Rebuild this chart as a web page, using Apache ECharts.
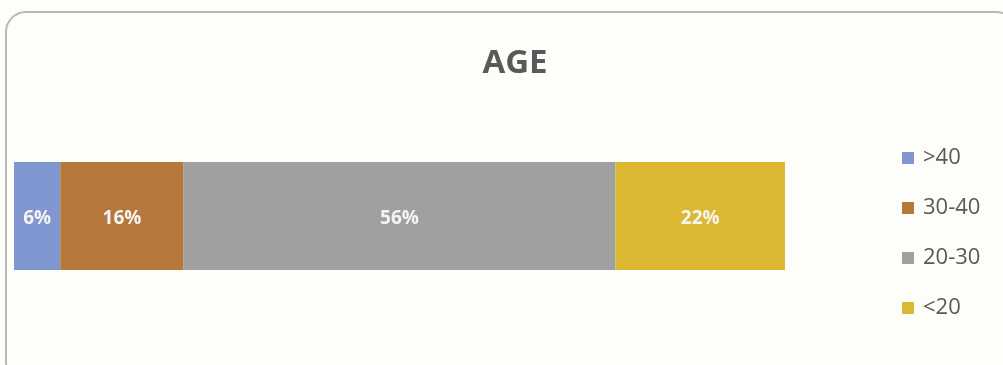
<!DOCTYPE html>
<html>
<head>
<meta charset="utf-8">
<script src="https://cdn.jsdelivr.net/npm/echarts@6/dist/echarts.min.js"></script>
<style>
	html, body { margin: 0; padding: 0; background: #fdfdf9; }
	#chart { width: 1003px; height: 365px; }
</style>
</head>
<body>
<div id="chart"></div>
<script>
var categories = ['AGE'];
var groupNames = ['>40', '30-40', '20-30', '<20'];
var groupValues = [6, 16, 56, 22];
var groupColors = ['#7f96d0', '#b5783a', '#a0a0a0', '#dcb932'];

var myChart = echarts.init(document.getElementById('chart'));

var series = [];
for (var i = 0; i < groupNames.length; i++) {
	series.push({
		type: 'bar',
		name: groupNames[i],
		stack: 'age',
		barWidth: 108,
		data: [groupValues[i]],
		itemStyle: { color: groupColors[i] },
		label: {
			show: true,
			position: 'inside',
			offset: [0, 3],
			formatter: '{c}%',
			color: '#f4f4f4',
			fontSize: 19,
			fontWeight: 'bold',
			fontFamily: 'Open Sans'
		}
	});
}

var option = {
	backgroundColor: '#fdfdf9',
	animation: false,
	title: {
		text: 'AGE',
		left: 510,
		textAlign: 'center',
		top: 42,
		textStyle: {
			color: '#595959',
			fontSize: 33,
			fontWeight: 'bold',
			fontFamily: 'Open Sans'
		}
	},
	graphic: [{
		type: 'rect',
		shape: { x: 6, y: 12, width: 1010, height: 370, r: 20 },
		style: { fill: null, stroke: '#b8b8b8', lineWidth: 2 },
		z: -1
	}],
	legend: {
		orient: 'vertical',
		left: 897,
		top: 142,
		itemWidth: 12,
		itemHeight: 12,
		itemGap: 28,
		icon: 'rect',
		textStyle: {
			color: '#595959',
			fontSize: 22,
			fontFamily: 'Open Sans',
			padding: [0, 0, 0, 4]
		},
		data: groupNames
	},
	grid: {
		left: 14,
		top: 162,
		width: 771,
		height: 108
	},
	xAxis: {
		type: 'value',
		min: 0,
		max: 100,
		show: false
	},
	yAxis: {
		type: 'category',
		data: categories,
		show: false
	},
	series: series
};

myChart.setOption(option);
</script>
</body>
</html>
